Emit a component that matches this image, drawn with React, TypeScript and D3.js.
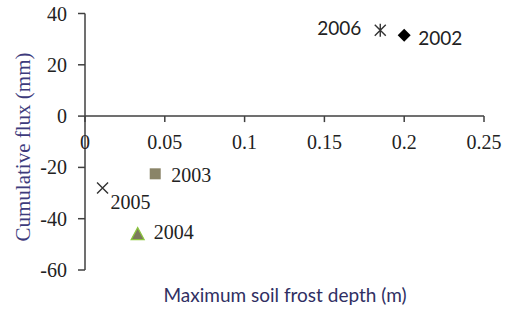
import React, { useEffect, useRef } from 'react';
import * as d3 from 'd3';

// data
const years = ['2002', '2003', '2004', '2005', '2006'];
const frostDepth = [0.2, 0.044, 0.033, 0.011, 0.185];
const cumFlux = [31.5, -22.5, -46, -28, 33.5];
const markers = ['diamond', 'square', 'triangle', 'x', 'star'];

const xTicks = [0, 0.05, 0.1, 0.15, 0.2, 0.25];
const yTicks = [40, 20, 0, -20, -40, -60];

const W = 509;
const H = 312;

const App: React.FC = () => {
  const svgRef = useRef<SVGSVGElement | null>(null);

  useEffect(() => {
    const svg = d3.select(svgRef.current);
    svg.selectAll('*').remove();

    const x = d3.scaleLinear().domain([0, 0.25]).range([85, 484]);
    const y = d3.scaleLinear().domain([-60, 40]).range([270, 13.5]);
    const axisColor = '#404040';

    // y axis
    svg.append('line')
      .attr('x1', x(0)).attr('x2', x(0))
      .attr('y1', y(40)).attr('y2', y(-60))
      .attr('stroke', axisColor).attr('stroke-width', 1.5);
    svg.selectAll('.ytick')
      .data(yTicks)
      .enter()
      .append('line')
      .attr('x1', x(0) - 7).attr('x2', x(0))
      .attr('y1', (d) => y(d)).attr('y2', (d) => y(d))
      .attr('stroke', axisColor).attr('stroke-width', 1.5);
    svg.selectAll('.ylab')
      .data(yTicks)
      .enter()
      .append('text')
      .attr('x', 67)
      .attr('y', (d) => y(d) + 7)
      .attr('text-anchor', 'end')
      .style('font-family', 'Liberation Serif')
      .style('font-size', '20px')
      .attr('fill', '#222')
      .text((d) => String(d));

    // x axis, crossing at y = 0
    svg.append('line')
      .attr('x1', x(0)).attr('x2', x(0.25))
      .attr('y1', y(0)).attr('y2', y(0))
      .attr('stroke', axisColor).attr('stroke-width', 1.5);
    svg.selectAll('.xtick')
      .data(xTicks)
      .enter()
      .append('line')
      .attr('x1', (d) => x(d)).attr('x2', (d) => x(d))
      .attr('y1', y(0)).attr('y2', y(0) + 6)
      .attr('stroke', axisColor).attr('stroke-width', 1.5);
    svg.selectAll('.xlab')
      .data(xTicks)
      .enter()
      .append('text')
      .attr('x', (d) => x(d))
      .attr('y', 149)
      .attr('text-anchor', 'middle')
      .style('font-family', 'Liberation Serif')
      .style('font-size', '20px')
      .attr('fill', '#222')
      .text((d) => String(d));

    // axis titles
    svg.append('text')
      .attr('x', 285)
      .attr('y', 302)
      .attr('text-anchor', 'middle')
      .style('font-family', 'Lato')
      .style('font-size', '19px')
      .attr('fill', '#302f63')
      .text('Maximum soil frost depth (m)');
    svg.append('text')
      .attr('transform', 'translate(30, 147) rotate(-90)')
      .attr('text-anchor', 'middle')
      .style('font-family', 'Liberation Serif')
      .style('font-size', '21px')
      .attr('fill', '#3d3b7c')
      .text('Cumulative flux (mm)');

    // markers
    years.forEach((yr, i) => {
      const cx = x(frostDepth[i]);
      const cy = y(cumFlux[i]);
      const g = svg.append('g').attr('transform', `translate(${cx},${cy})`);
      const m = markers[i];
      if (m === 'diamond') {
        g.append('path').attr('d', 'M0,-6.5L6.5,0L0,6.5L-6.5,0Z').attr('fill', '#000');
      } else if (m === 'square') {
        g.append('rect').attr('x', -5.5).attr('y', -5.5).attr('width', 11).attr('height', 11).attr('fill', '#8a8468');
      } else if (m === 'triangle') {
        g.append('path').attr('d', 'M0,-6.5L6.5,5.5L-6.5,5.5Z')
          .attr('fill', '#7c795c').attr('stroke', '#8cc63f').attr('stroke-width', 1.2);
      } else if (m === 'x') {
        g.append('path').attr('d', 'M-5.5,-5.5L5.5,5.5M-5.5,5.5L5.5,-5.5')
          .attr('stroke', '#333').attr('stroke-width', 1.4);
      } else {
        g.append('path').attr('d', 'M-5.5,-5.5L5.5,5.5M-5.5,5.5L5.5,-5.5M0,-6.5L0,6.5')
          .attr('stroke', '#333').attr('stroke-width', 1.4);
      }
    });

    // point labels
    const labelPos: Record<string, [number, number, string, string]> = {
      '2002': [14, 10, 'Lato', 'start'],
      '2003': [16, 8, 'Liberation Serif', 'start'],
      '2004': [16, 5, 'Liberation Serif', 'start'],
      '2005': [8, 21, 'Liberation Serif', 'start'],
      '2006': [-19, 5, 'Lato', 'end'],
    };
    years.forEach((yr, i) => {
      const [dx, dy, font, anchor] = labelPos[yr];
      svg.append('text')
        .attr('x', x(frostDepth[i]) + dx)
        .attr('y', y(cumFlux[i]) + dy)
        .attr('text-anchor', anchor)
        .style('font-family', font)
        .style('font-size', font === 'Lato' ? '19px' : '20px')
        .attr('fill', '#222')
        .text(yr);
    });
  }, []);

  return (
    <svg
      ref={svgRef}
      width={W}
      height={H}
      style={{ position: 'absolute', left: 0, top: 0, background: '#fff' }}
    ></svg>
  );
};

export default App;
